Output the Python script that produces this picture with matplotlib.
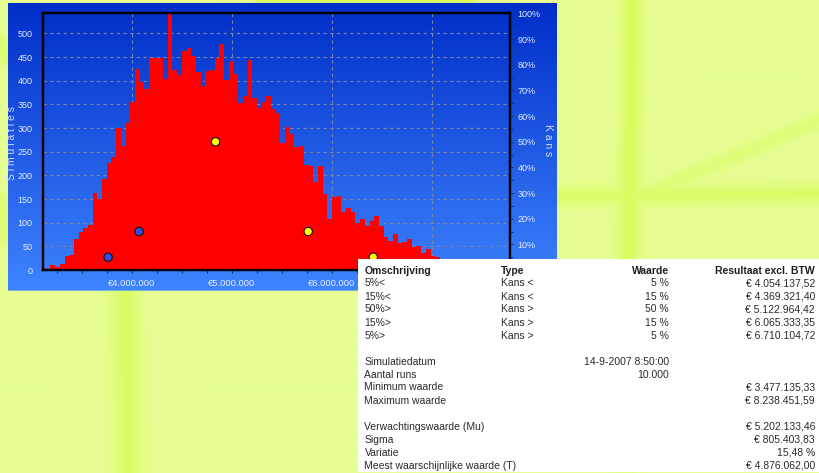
import numpy as np
import matplotlib
matplotlib.use("Agg")
import matplotlib.pyplot as plt
from matplotlib.ticker import FixedLocator, MultipleLocator, FuncFormatter

W, H = 820, 473
FONT = "Liberation Sans"

# ---------------- data (x in million euro, as labelled on the chart axis) ----------------
bin_start = 3.096
bin_width = 0.0469
counts = [5, 1, 10, 7, 13, 30, 31, 65, 80, 89, 95, 163, 151, 192, 227, 239, 301, 261,
          311, 355, 424, 397, 382, 449, 449, 449, 403, 540, 423, 411, 462, 470, 452, 418,
          389, 420, 423, 449, 478, 401, 442, 415, 353, 368, 444, 364, 343, 356, 368, 340,
          332, 268, 302, 287, 259, 261, 222, 219, 186, 220, 161, 108, 155, 157, 123, 132,
          123, 100, 107, 94, 103, 114, 94, 69, 61, 76, 56, 59, 65, 48, 51, 35, 45, 30, 27,
          18, 15, 12, 10, 8, 6, 5, 4, 3, 2, 2, 1, 1]

pct_x = [3.766, 4.076, 4.840, 5.766, 6.416]
pct_y = [5, 15, 50, 15, 5]
pct_colors = ["#2f50e6", "#2f50e6", "#ffff00", "#ffff00", "#ffff00"]

x_major = [4, 5, 6, 7]
y_left_ticks = [0, 50, 100, 150, 200, 250, 300, 350, 400, 450, 500]
y_right_ticks = [10, 20, 30, 40, 50, 60, 70, 80, 90, 100]

table_header = ["Omschrijving", "Type", "Waarde", "Resultaat excl. BTW"]
table_rows = [
    ["5%<", "Kans <", "5 %", "€ 4.054.137,52"],
    ["15%<", "Kans <", "15 %", "€ 4.369.321,40"],
    ["50%>", "Kans >", "50 %", "€ 5.122.964,42"],
    ["15%>", "Kans >", "15 %", "€ 6.065.333,35"],
    ["5%>", "Kans >", "5 %", "€ 6.710.104,72"],
    None,
    ["Simulatiedatum", "", "14-9-2007 8:50:00", ""],
    ["Aantal runs", "", "10.000", ""],
    ["Minimum waarde", "", "", "€ 3.477.135,33"],
    ["Maximum waarde", "", "", "€ 8.238.451,59"],
    None,
    ["Verwachtingswaarde (Mu)", "", "", "€ 5.202.133,46"],
    ["Sigma", "", "", "€ 805.403,83"],
    ["Variatie", "", "", "15,48 %"],
    ["Meest waarschijnlijke waarde (T)", "", "", "€ 4.876.062,00"],
]

# ---------------- background (slide texture + blue panel) ----------------
yy, xx = np.mgrid[0:H, 0:W].astype(float)
img = np.zeros((H, W, 3))
base = np.array([230, 254, 148]) / 255.0
hi = np.array([212, 250, 70]) / 255.0
img[:] = base

def seg_glow(x0, y0, x1, y1, sigma, strength):
    dx, dy = x1 - x0, y1 - y0
    t = ((xx - x0) * dx + (yy - y0) * dy) / (dx * dx + dy * dy)
    t = np.clip(t, 0, 1)
    d2 = (xx - (x0 + t * dx)) ** 2 + (yy - (y0 + t * dy)) ** 2
    return strength * np.exp(-d2 / (2 * sigma ** 2))

glow = np.zeros((H, W))
glow = np.maximum(glow, seg_glow(632, 0, 628, 260, 8, 0.7))
glow = np.maximum(glow, seg_glow(628, 260, 626, 473, 10, 0.3))
glow = np.maximum(glow, seg_glow(560, 196, 820, 194, 7, 0.55))
glow = np.maximum(glow, seg_glow(650, 192, 820, 120, 6, 0.35))
glow = np.maximum(glow, seg_glow(125, 290, 128, 473, 10, 0.6))
glow = np.maximum(glow, seg_glow(260, 0, 470, 0, 5, 0.7))
glow = np.maximum(glow, seg_glow(0, 40, 6, 60, 5, 0.45))
glow = np.maximum(glow, seg_glow(0, 200, 6, 240, 6, 0.4))
img = img * (1 - glow[..., None]) + hi * glow[..., None]

top_c = np.array([0, 46, 200]) / 255.0
bot_c = np.array([62, 132, 255]) / 255.0
py0, py1, px0, px1 = 4, 291, 8, 557
f = ((np.arange(py0, py1) - py0) / (py1 - py0))[:, None, None]
img[py0:py1, px0:px1] = top_c * (1 - f) + bot_c * f

fig = plt.figure(figsize=(W / 100, H / 100), dpi=100)
bg = fig.add_axes([0, 0, 1, 1], zorder=-5)
bg.imshow(img, extent=[0, W, H, 0], aspect="auto", interpolation="bilinear")
bg.set_xlim(0, W)
bg.set_ylim(H, 0)
bg.axis("off")

# ---------------- main chart ----------------
L, R, T, B = 42.7, 510.0, 13.5, 270.0
ax = fig.add_axes([L / W, 1 - B / H, (R - L) / W, (B - T) / H], zorder=1)
ax.set_facecolor("none")
edges = bin_start + bin_width * np.arange(len(counts))
ax.bar(edges, counts, width=bin_width, align="edge", color="#ff0000", linewidth=0, zorder=2)
ax.set_xlim(3.112, 7.783)
ax.set_ylim(0, 542)
ax.set_axisbelow(True)

ax.xaxis.set_major_locator(FixedLocator(x_major))
ax.xaxis.set_minor_locator(MultipleLocator(0.25))
ax.xaxis.set_major_formatter(FuncFormatter(lambda v, p: "€%d.000.000" % round(v)))
ax.yaxis.set_major_locator(FixedLocator(y_left_ticks))
ax.yaxis.set_minor_locator(MultipleLocator(25))
ax.grid(True, which="major", color="#7a84a8", linestyle=(0, (3, 3)), linewidth=0.8)
for s in ax.spines.values():
    s.set_color("black")
    s.set_linewidth(1.6)
lab_col = "#e6edff"
ax.tick_params(axis="both", which="both", colors="#20285a", labelcolor=lab_col,
               labelsize=6.5, length=1.8, width=0.7, direction="out")
ax.tick_params(axis="x", which="major", labelsize=6.8, pad=5.0)
ax.tick_params(axis="y", which="major", pad=5.5)
for lb in ax.get_xticklabels() + ax.get_yticklabels():
    lb.set_fontfamily(FONT)

ax2 = ax.twinx()
ax2.set_ylim(0, 100)
ax2.yaxis.set_major_locator(FixedLocator(y_right_ticks))
ax2.yaxis.set_minor_locator(MultipleLocator(5))
ax2.yaxis.set_major_formatter(FuncFormatter(lambda v, p: "%d%%" % round(v)))
ax2.tick_params(axis="y", which="both", colors="#20285a", labelcolor=lab_col,
                labelsize=6.5, length=1.8, width=0.7, direction="out", pad=3.5)
for lb in ax2.get_yticklabels():
    lb.set_fontfamily(FONT)
for s in ax2.spines.values():
    s.set_color("black")
    s.set_linewidth(1.6)
ax2.scatter(pct_x, pct_y, s=36, c=pct_colors, edgecolors="#101010", linewidths=0.8, zorder=5)

def fx(x):
    return x / W

def fy(y):
    return 1 - y / H

fig.text(fx(12.5), fy(143), "S i m u l a t i e s", rotation=90, ha="center", va="center",
         color="#cfdcff", fontsize=7.5, family=FONT)
fig.text(fx(548), fy(140), "K a n s", rotation=-90, ha="center", va="center",
         color="#cfdcff", fontsize=7.5, family=FONT)

# ---------------- results table ----------------
tx0, ty0, ty1 = 358, 259, 471.5
tab = fig.add_axes([fx(tx0), fy(ty1), (W - tx0) / W, (ty1 - ty0) / H], zorder=5)
tab.set_facecolor("white")
tab.set_xticks([])
tab.set_yticks([])
for s in tab.spines.values():
    s.set_visible(False)

col_x = [364.5, 500.7, 669.0, 815.0]
col_ha = ["left", "left", "right", "right"]
row_y0, row_dy = 270.5, 13.0
for j, txt in enumerate(table_header):
    fig.text(fx(col_x[j]), fy(row_y0), txt, ha=col_ha[j], va="center", fontsize=7.5,
             family=FONT, weight="bold", color="#1e1e1e", zorder=10)
for i, row in enumerate(table_rows):
    if row is None:
        continue
    y = row_y0 + row_dy * (i + 1)
    for j, txt in enumerate(row):
        if txt:
            fig.text(fx(col_x[j]), fy(y), txt, ha=col_ha[j], va="center", fontsize=7.5,
                     family=FONT, color="#2a2a2a", zorder=10)

fig.savefig("out.png", dpi=100)
